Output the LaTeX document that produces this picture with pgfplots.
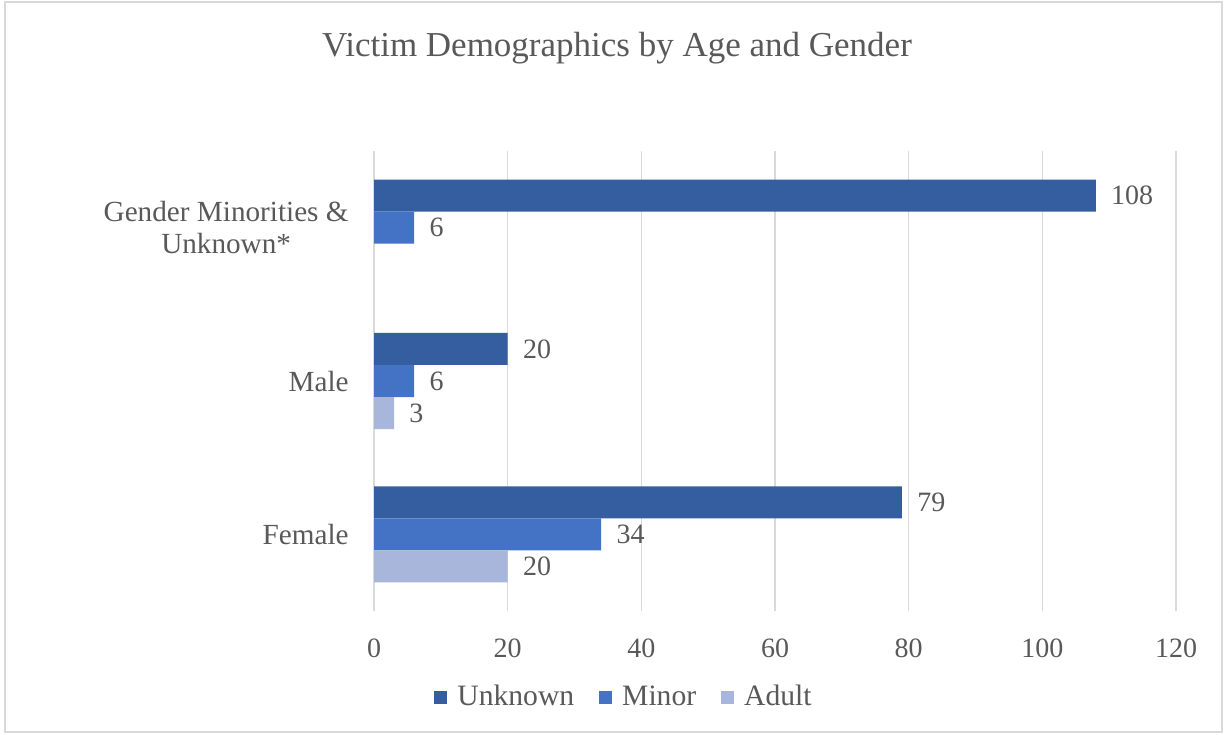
\documentclass[border=0pt]{standalone}
\usepackage{fontspec}
\setmainfont{Liberation Serif}
\usepackage{pgfplots}
\pgfplotsset{compat=1.18}
\definecolor{unk}{HTML}{345E9F}
\definecolor{minor}{HTML}{4472C4}
\definecolor{adult}{HTML}{A9B6DB}
\definecolor{txt}{HTML}{595959}
\definecolor{gridc}{HTML}{D9D9D9}

\begin{document}
\begin{tikzpicture}
% page 1224x734 px at 0.5pt per px
\path (0pt,0pt) rectangle (612pt,-367pt);
\draw[gridc, line width=0.75pt] (2.5pt,-1pt) rectangle (611pt,-366pt);
\node[font=\fontsize{17.5}{21}\selectfont, text=txt] at (308.5pt,-24pt) {Victim Demographics by Age and Gender};

\begin{axis}[
    at={(187pt,-305.5pt)}, anchor=south west,
    scale only axis, width=401pt, height=230pt,
    xmin=0, xmax=120, ymin=-0.5, ymax=2.5,
    axis line style={draw=none},
    xmajorgrids, grid style={gridc, line width=0.75pt},
    major tick length=0pt,
    xtick={0,20,...,120}, ytick={0,1,2},
    yticklabels={Female, Male, {Gender Minorities \&\\Unknown*}},
    /pgf/number format/assume math mode=true,
    tick label style={font=\fontsize{14}{16}\selectfont, text=txt, inner sep=0pt},
    xticklabel style={anchor=center, yshift=-18.5pt},
    yticklabel style={font=\fontsize{14.6}{16}\selectfont, anchor=east, align=center, xshift=-12.5pt},
    xbar, bar width=0.209,
    nodes near coords,
    nodes near coords style={font=\fontsize{14}{16}\selectfont, text=txt, anchor=west, inner sep=0pt, xshift=7.5pt},
    legend columns=3,
    legend style={at={(axis description cs:0.3105,-0.187)}, anchor=center, draw=none,
        font=\fontsize{14.8}{16}\selectfont, text=txt,
        nodes={inner sep=0pt},
        /tikz/every odd column/.style={column sep=5pt},
        /tikz/every even column/.style={column sep=12.5pt}},
    legend image code/.code={\fill[#1] (0pt,-3.25pt) rectangle (6.5pt,3.25pt);},
]
\addplot[bar shift=0.209, fill=unk, draw=none] coordinates {(79,0) (20,1) (108,2)};
\addplot[bar shift=0, fill=minor, draw=none] coordinates {(34,0) (6,1) (6,2)};
\addplot[bar shift=-0.209, fill=adult, draw=none] coordinates {(20,0) (3,1)};
\legend{Unknown, Minor, Adult}
\end{axis}
\end{tikzpicture}
\end{document}
